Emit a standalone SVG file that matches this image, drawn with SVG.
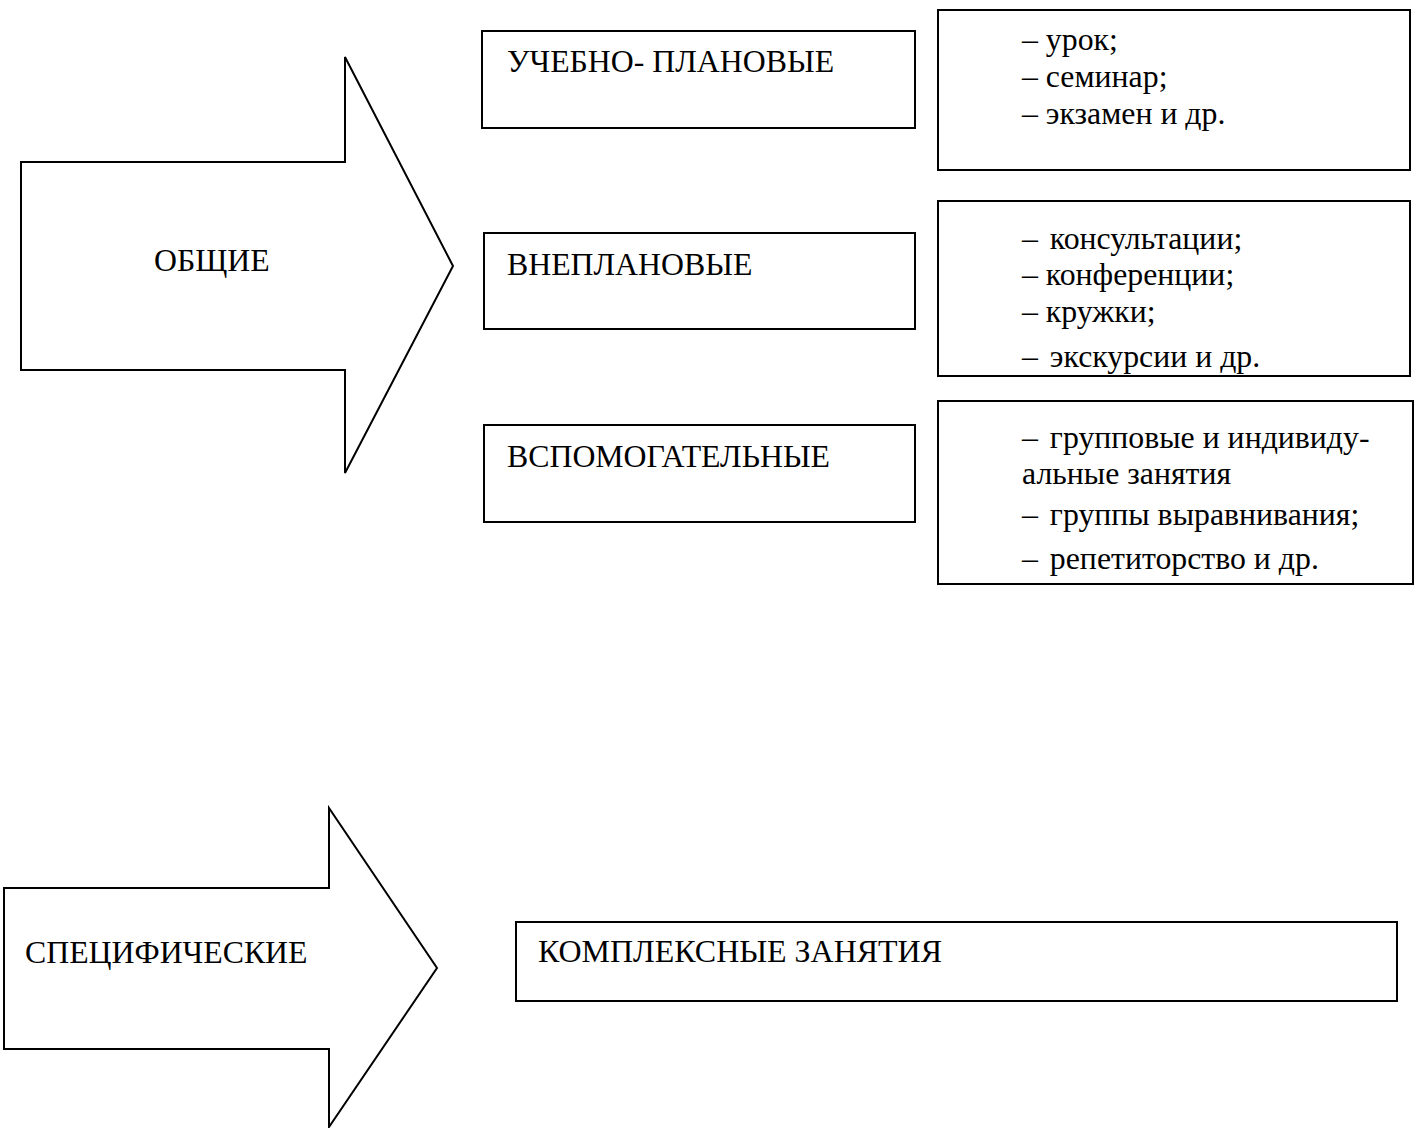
<svg xmlns="http://www.w3.org/2000/svg" width="1418" height="1128" viewBox="0 0 1418 1128">
<style>
.shape{fill:#fff;stroke:#000;stroke-width:2}
.t{font-family:"Liberation Serif","Times New Roman",serif;font-size:31.8px;fill:#000}
</style>
<rect width="1418" height="1128" fill="#fff"/>
<g id="arrow-general">
<polygon class="shape" points="21,162 345,162 345,57 453,266 345,473 345,370 21,370"/>
<text class="t" x="154" y="271">ОБЩИЕ</text>
</g>
<g id="box-planned">
<rect class="shape" x="482" y="31" width="433" height="97"/>
<text class="t" x="507" y="72">УЧЕБНО- ПЛАНОВЫЕ</text>
</g>
<g id="box-unplanned">
<rect class="shape" x="484" y="233" width="431" height="96"/>
<text class="t" x="507" y="275">ВНЕПЛАНОВЫЕ</text>
</g>
<g id="box-auxiliary">
<rect class="shape" x="484" y="425" width="431" height="97"/>
<text class="t" x="507" y="467">ВСПОМОГАТЕЛЬНЫЕ</text>
</g>
<g id="list-planned">
<rect class="shape" x="938" y="10" width="472" height="160"/>
<text class="t" x="1022" y="50">– урок;</text>
<text class="t" x="1022" y="87">– семинар;</text>
<text class="t" x="1022" y="124">– экзамен и др.</text>
</g>
<g id="list-unplanned">
<rect class="shape" x="938" y="201" width="472" height="175"/>
<text class="t" x="1022" y="249">– <tspan dx="4">консультации;</tspan></text>
<text class="t" x="1022" y="285">– конференции;</text>
<text class="t" x="1022" y="322">– кружки;</text>
<text class="t" x="1022" y="367">– <tspan dx="4">экскурсии и др.</tspan></text>
</g>
<g id="list-auxiliary">
<rect class="shape" x="938" y="401" width="475" height="183"/>
<text class="t" x="1022" y="448">– <tspan dx="4">групповые и индивиду-</tspan></text>
<text class="t" x="1022" y="484">альные занятия</text>
<text class="t" x="1022" y="525">– <tspan dx="4">группы выравнивания;</tspan></text>
<text class="t" x="1022" y="569">– <tspan dx="4">репетиторство и др.</tspan></text>
</g>
<g id="arrow-specific">
<polygon class="shape" points="4,888 329,888 329,808 437,968 329,1127 329,1049 4,1049"/>
<text class="t" x="25" y="963">СПЕЦИФИЧЕСКИЕ</text>
</g>
<g id="box-complex">
<rect class="shape" x="516" y="922" width="881" height="79"/>
<text class="t" x="538" y="962" textLength="404" lengthAdjust="spacingAndGlyphs">КОМПЛЕКСНЫЕ ЗАНЯТИЯ</text>
</g>
<g id="connectors"></g>
</svg>
